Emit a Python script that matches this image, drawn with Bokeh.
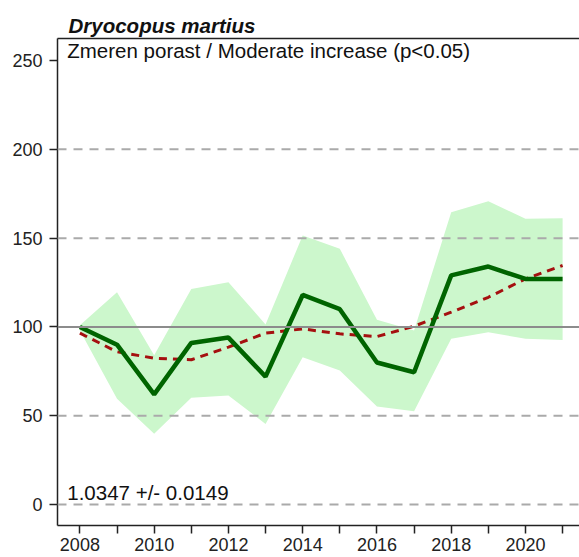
from bokeh.plotting import figure
from bokeh.models import Span, Label, LinearAxis, FixedTicker, Title
from bokeh.embed import file_html
from bokeh.resources import INLINE

years = list(range(2008, 2022))
index = [100, 90, 62, 91, 94, 72, 118, 110, 80, 74.5, 129, 134, 127, 127]
trend = [96.5, 86, 82.4, 81.5, 88.6, 96.5, 98.9, 96.1, 94.6, 100.4, 108.3, 116.7, 127.1, 134.6]
upper = [101, 119.5, 84, 121.4, 125.2, 101.4, 151.5, 144, 104, 98, 164.6, 170.8, 160.9, 161.2]
lower = [98, 59.5, 39.8, 60.1, 61.4, 45.4, 82.9, 75.5, 55.2, 52.5, 93.3, 97, 93.3, 92.7]
y_ticks = [0, 50, 100, 150, 200, 250]
dash_grid = [0, 50, 150, 200]
x_label_years = list(range(2008, 2022, 2))

title_text = "Dryocopus martius"
subtitle_text = "Zmeren porast / Moderate increase (p<0.05)"
slope_text = "1.0347 +/- 0.0149"

FONT = "Liberation Sans"

p = figure(width=579, height=557, output_backend="svg", toolbar_location=None,
           x_range=(2007.397, 2021.455), y_range=(-11.8, 262.4),
           min_border_left=57, min_border_right=0, min_border_top=38, min_border_bottom=32,
           x_axis_location=None, y_axis_location=None)
p.outline_line_color = None
p.xgrid.visible = False
p.ygrid.visible = False
p.background_fill_color = "white"
p.border_fill_color = "white"

# band
p.varea(x=years, y1=lower, y2=upper, fill_color="#ccf7cc", fill_alpha=1.0)

# grid lines
for g in dash_grid:
    p.add_layout(Span(location=g, dimension="width", line_color="#aaaaaa",
                      line_width=2, line_dash="9 7"))
p.add_layout(Span(location=100, dimension="width", line_color="#8c8c8c", line_width=2))

p.line(years, trend, line_color="#a51010", line_width=3, line_dash="8 6")
p.line(years, index, line_color="#006400", line_width=4.5)

# axes
yax = LinearAxis(ticker=FixedTicker(ticks=y_ticks))
yax.axis_line_color = "#222222"
yax.axis_line_width = 1.5
yax.major_tick_line_color = "#222222"
yax.major_tick_line_width = 1.5
yax.major_tick_out = 8
yax.major_tick_in = 0
yax.minor_tick_line_color = None
yax.major_label_text_font = FONT
yax.major_label_text_font_size = "18px"
yax.major_label_text_color = "#222222"
yax.major_label_standoff = 7
p.add_layout(yax, "left")

xax = LinearAxis(ticker=FixedTicker(ticks=years))
xax.axis_line_color = "#222222"
xax.axis_line_width = 1.5
xax.major_tick_line_color = "#222222"
xax.major_tick_line_width = 1.5
xax.major_tick_out = 8
xax.major_tick_in = 0
xax.minor_tick_line_color = None
xax.major_label_text_font = FONT
xax.major_label_text_font_size = "18px"
xax.major_label_text_color = "#222222"
xax.major_label_standoff = 4
xax.major_label_overrides = {y: (str(y) if y in x_label_years else "") for y in years}
p.add_layout(xax, "below")

top = LinearAxis(ticker=FixedTicker(ticks=years))
top.axis_line_color = "#222222"
top.axis_line_width = 1.5
top.major_tick_line_color = None
top.major_tick_out = 0
top.major_tick_in = 0
top.minor_tick_line_color = None
top.major_label_text_font_size = "1px"
top.major_label_text_alpha = 0
top.major_label_standoff = 0
p.add_layout(top, "above")

p.add_layout(Title(text=title_text, text_font=FONT, text_font_size="20.5px",
                   text_font_style="bold italic", text_color="#111111",
                   align="left", offset=11, standoff=4), "above")

p.add_layout(Label(x=2007.66, y=255.8, text=subtitle_text, text_font=FONT,
                   text_font_size="20.5px", text_color="#111111",
                   text_baseline="alphabetic"))
p.add_layout(Label(x=2007.66, y=6.8, text=slope_text, text_font=FONT,
                   text_font_size="20.5px", text_color="#111111",
                   text_baseline="alphabetic"))

open("out.html", "w").write(file_html(p, INLINE))
